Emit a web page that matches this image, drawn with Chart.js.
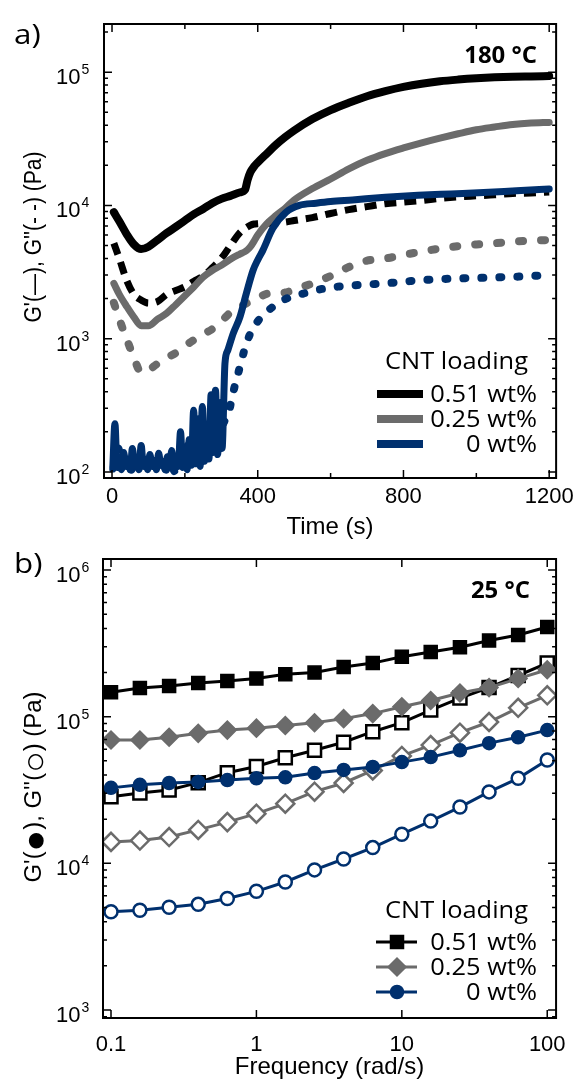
<!DOCTYPE html>
<html>
<head>
<meta charset="utf-8">
<script src="https://cdn.jsdelivr.net/npm/chart.js@4.4.1/dist/chart.umd.min.js"></script>
<style>
  html, body { margin: 0; padding: 0; background: #fff; }
  #page { position: relative; width: 580px; height: 1082px; overflow: hidden; }
  #panelA { position: absolute; left: 0; top: 0; }
  #panelB { position: absolute; left: 0; top: 540px; }
</style>
</head>
<body>
<div id="page">
  <canvas id="panelA" width="580" height="545"></canvas>
  <canvas id="panelB" width="580" height="542"></canvas>
</div>
<script>
// ---------- panel a: time sweep at 180 °C ----------
const timeS = [5, 20, 40, 60, 80, 100, 125, 150, 175, 200, 225, 250, 275, 300, 325, 350, 365, 372, 380, 390,
  400, 425, 450, 475, 500, 550, 600, 650, 700, 750, 800, 850, 900, 950, 1000, 1050, 1100, 1150, 1200];
const gp051 = [8900, 7600, 6100, 5100, 4700, 4900, 5500, 6200, 6900, 7700, 8600, 9400, 10400, 11200, 11800, 12500, 13100, 15500, 17800, 19600,
  21000, 24500, 28500, 32500, 36500, 44500, 52000, 59000, 66000, 72000, 77500, 82000, 85500, 88000, 90000, 91500, 92500, 93000, 93500];
const gpp051 = [5200, 4000, 2750, 2150, 1950, 1850, 1900, 2150, 2300, 2450, 2700, 2950, 3400, 4000, 5000, 6200, 6700, 6900, 7100, 7250,
  7300, 7350, 7400, 7500, 7700, 8100, 8700, 9300, 9800, 10300, 10600, 10900, 11300, 11600, 11800, 12000, 12300, 12400, 12600];
const gp025 = [2600, 2150, 1750, 1450, 1250, 1250, 1400, 1550, 1800, 2100, 2450, 2900, 3250, 3550, 3950, 4300, 4500, 4650, 4900, 5400,
  6000, 7300, 8400, 9500, 11000, 13400, 15800, 18800, 21800, 24500, 27000, 29500, 32000, 34500, 37000, 38800, 40500, 41500, 42000];
const gpp025 = [1860, 1400, 1000, 720, 560, 580, 650, 720, 780, 880, 980, 1080, 1180, 1350, 1570, 1720, 1820, 1860, 1900, 1960,
  2020, 2170, 2200, 2220, 2330, 2600, 2950, 3450, 3850, 4000, 4250, 4500, 4750, 4950, 5100, 5200, 5350, 5450, 5500];

// neat polymer: noisy signal near the torque limit before curing sets in
const timeGp0 = [2, 8, 14, 20, 26, 32, 38, 44, 50, 56, 62, 68, 74, 80, 86, 92, 98, 104, 110, 116, 122, 128, 134, 140, 146,
  152, 158, 164, 170, 176, 182, 188, 194, 200, 206, 212, 218, 224, 230, 236, 242, 248, 254, 260, 266, 272, 278, 284, 290, 296, 302,
  310, 318, 333, 351, 369, 387, 400, 414, 441, 478, 514, 560, 600, 660, 750, 840, 930, 1020, 1110, 1200];
const gp0 = [105, 230, 108, 125, 104, 140, 110, 122, 104, 150, 112, 124, 104, 158, 110, 125, 104, 135, 110, 122, 104, 138, 112, 120, 104,
  130, 110, 145, 104, 122, 110, 200, 108, 140, 104, 175, 112, 290, 115, 250, 110, 310, 120, 230, 125, 380, 140, 410, 135, 330, 150,
  650, 820, 1100, 1450, 2200, 3250, 3900, 4600, 6700, 8900, 10000, 10400, 10700, 11000, 11500, 11900, 12200, 12500, 12900, 13300];
const timeGpp0 = [5, 17, 29, 41, 53, 65, 77, 89, 101, 113, 125, 137, 149, 161, 173, 185, 197, 209, 221, 233, 245, 257, 269, 281, 293, 305,
  320, 335, 350, 365, 380, 400, 420, 440, 470, 530, 590, 650, 750, 850, 950, 1050, 1150, 1200];
const gpp0 = [110, 150, 100, 130, 104, 125, 100, 135, 103, 120, 100, 128, 104, 118, 100, 130, 105, 160, 110, 200, 120, 180, 150, 250, 200, 230,
  280, 420, 600, 850, 1100, 1350, 1550, 1720, 1950, 2200, 2400, 2500, 2600, 2750, 2830, 2880, 2950, 3000];

const timeTicks = [0, 400, 800, 1200];
const timeMinor = [200, 600, 1000];
const decadesA = [2, 3, 4, 5];

// ---------- panel b: frequency sweep at 25 °C ----------
const freq = [0.1, 0.158, 0.251, 0.398, 0.631, 1, 1.58, 2.51, 3.98, 6.31, 10, 15.8, 25.1, 39.8, 63.1, 100];
const fGp051 = [147000, 157000, 162000, 170000, 175000, 182000, 195000, 200000, 218000, 232000, 256000, 276000, 298000, 331000, 361000, 409000];
const fGpp051 = [28400, 30200, 31600, 35500, 41500, 45700, 52500, 59000, 67000, 79000, 91000, 111000, 134000, 158000, 191000, 232000];
const fGp025 = [69300, 69300, 72400, 77000, 81000, 83500, 87000, 91000, 97000, 105000, 117000, 129000, 145000, 158000, 182000, 209000];
const fGpp025 = [14000, 14300, 15100, 16900, 19100, 21800, 25500, 30800, 35300, 43000, 54000, 64000, 77800, 92000, 115000, 140000];
const fGp0 = [32700, 34300, 35300, 35900, 37000, 38000, 38600, 41300, 43300, 45400, 49000, 53000, 59000, 66000, 72400, 81000];
const fGpp0 = [4670, 4790, 5010, 5250, 5760, 6440, 7460, 9020, 10700, 12800, 15800, 19400, 24200, 30700, 38000, 50700];

const freqTicks = [0.1, 1, 10, 100];
const decadesB = [3, 4, 5, 6];

const loadings = ['0.51 wt%', '0.25 wt%', '0 wt%'];
const BLACK = '#000000', GREY = '#6b6b6b', NAVY = '#00306e';
const colors = [BLACK, GREY, NAVY];
const SANS = '"Liberation Sans", Arial, sans-serif';
const OPEN = '"Open Sans", sans-serif';

const xy = (xs, ys) => xs.map((x, i) => ({ x, y: ys[i] }));

function curve(points, color, width, dash, cap, order) {
  return {
    data: points, borderColor: color, borderWidth: width, borderDash: dash,
    borderCapStyle: cap, borderJoinStyle: 'round', pointRadius: 0,
    cubicInterpolationMode: 'monotone', fill: false, order
  };
}

function markers(points, color, style, radius, filled, order) {
  return {
    data: points, borderColor: color, borderWidth: 3, tension: 0, fill: false,
    pointStyle: style, pointRadius: radius, pointBorderWidth: filled ? 1.5 : 2.5,
    pointBorderColor: color, pointBackgroundColor: filled ? color : '#ffffff', order
  };
}

// box, inward ticks on all four sides
function drawFrame(chart, xMajor, xMinor, decades) {
  const { ctx, chartArea: a, scales: { x, y } } = chart;
  ctx.save();
  ctx.strokeStyle = '#000';
  ctx.lineWidth = 1.5;
  ctx.beginPath();
  const xTick = (v, len) => {
    const p = x.getPixelForValue(v);
    ctx.moveTo(p, a.bottom); ctx.lineTo(p, a.bottom - len);
    ctx.moveTo(p, a.top); ctx.lineTo(p, a.top + len);
  };
  const yTick = (v, len) => {
    const p = y.getPixelForValue(v);
    if (p < a.top - 0.5 || p > a.bottom + 0.5) return;
    ctx.moveTo(a.left, p); ctx.lineTo(a.left + len, p);
    ctx.moveTo(a.right, p); ctx.lineTo(a.right - len, p);
  };
  xMajor.forEach(v => xTick(v, 8));
  xMinor.forEach(v => xTick(v, 5));
  const all = [decades[0] - 1].concat(decades);
  all.forEach(e => {
    const d = Math.pow(10, e);
    if (e >= decades[0]) yTick(d, 8);
    for (let m = 2; m <= 9; m++) yTick(m * d, 4);
  });
  ctx.stroke();
  ctx.lineWidth = 2;
  ctx.strokeRect(a.left, a.top, a.right - a.left, a.bottom - a.top);
  ctx.restore();
}

// 10^n labels with a raised exponent
function drawPowerLabels(chart, decades) {
  const { ctx, scales: { y } } = chart;
  ctx.save();
  ctx.fillStyle = '#000';
  ctx.textAlign = 'left';
  ctx.textBaseline = 'alphabetic';
  decades.forEach(e => {
    const p = y.getPixelForValue(Math.pow(10, e));
    ctx.font = '22px ' + SANS;
    ctx.fillText('10', 56, p + 12);
    const w = ctx.measureText('10').width;
    ctx.font = '14px ' + SANS;
    ctx.fillText(String(e), 56 + w + 1, p + 2);
  });
  ctx.restore();
}

// rotated axis title made of runs (text, relative size), squeezed to a given length
function drawYTitle(ctx, runs, cx, cy, size, length) {
  ctx.save();
  ctx.fillStyle = '#000';
  ctx.textBaseline = 'middle';
  ctx.textAlign = 'left';
  const widths = runs.map(([t, k]) => { ctx.font = (size * k) + 'px ' + SANS; return ctx.measureText(t).width; });
  const total = widths.reduce((s, w) => s + w, 0);
  ctx.translate(cx, cy);
  ctx.rotate(-Math.PI / 2);
  ctx.scale(length / total, 1);
  let x = -total / 2;
  runs.forEach(([t, k], i) => {
    ctx.font = (size * k) + 'px ' + SANS;
    ctx.fillText(t, x, k > 1 ? 1 : 0);
    x += widths[i];
  });
  ctx.restore();
}

// text stretched horizontally by sx, anchored at its left or right edge
function stretchedText(ctx, text, x, y, sx, align) {
  ctx.save();
  ctx.translate(x, y);
  ctx.scale(sx, 1);
  ctx.textAlign = align;
  ctx.fillText(text, 0, 0);
  ctx.restore();
}

function drawMarker(ctx, style, x, y, r) {
  ctx.beginPath();
  if (style === 'rect') {
    const s = Math.SQRT1_2 * r;
    ctx.rect(x - s, y - s, 2 * s, 2 * s);
  } else if (style === 'rectRot') {
    ctx.moveTo(x - r, y); ctx.lineTo(x, y - r); ctx.lineTo(x + r, y); ctx.lineTo(x, y + r); ctx.closePath();
  } else {
    ctx.arc(x, y, r, 0, Math.PI * 2);
  }
  ctx.fill();
  ctx.stroke();
}

// panel letter, temperature and "CNT loading" block
function drawCaptions(ctx, letter, letterY, temp, tempRight, tempY, headY, base) {
  ctx.fillStyle = '#000';
  ctx.textBaseline = 'alphabetic';
  ctx.font = '28px ' + OPEN;
  stretchedText(ctx, letter, 14, letterY, 1.12, 'left');
  ctx.font = 'bold 23px ' + OPEN;
  stretchedText(ctx, temp, tempRight, tempY, 1.04, 'right');
  ctx.font = '23px ' + OPEN;
  const sx = 143 / ctx.measureText('CNT loading').width;
  stretchedText(ctx, 'CNT loading', 385, headY, sx, 'left');
  loadings.forEach((lbl, i) => stretchedText(ctx, lbl, 537, base[i], sx, 'right'));
}

const panelADecor = {
  id: 'panelADecor',
  afterDraw(chart) {
    const ctx = chart.ctx;
    drawFrame(chart, timeTicks, timeMinor, decadesA);
    drawPowerLabels(chart, decadesA);
    drawYTitle(ctx, [["G'(\u2014), G''(- -) (Pa)", 1]], 35, 237, 23, 171);
    ctx.save();
    const base = [402, 427, 452];
    drawCaptions(ctx, 'a)', 44, '180 \u00B0C', 537, 63, 369, base);
    loadings.forEach((lbl, i) => {
      ctx.strokeStyle = colors[i];
      ctx.lineWidth = 8;
      ctx.lineCap = 'butt';
      ctx.beginPath();
      ctx.moveTo(377, base[i] - 8);
      ctx.lineTo(423, base[i] - 8);
      ctx.stroke();
    });
    ctx.restore();
  }
};

const markerStyles = ['rect', 'rectRot', 'circle'];
const markerSizes = [9.2, 9, 6.5];

const panelBDecor = {
  id: 'panelBDecor',
  afterDraw(chart) {
    const ctx = chart.ctx;
    drawFrame(chart, freqTicks, [], decadesB);
    drawPowerLabels(chart, decadesB);
    drawYTitle(ctx, [["G'(", 1], ['\u25CF', 1.5], ["), G''(", 1], ['\u25CB', 1.5], [') (Pa)', 1]], 35, 247, 23, 191);
    ctx.save();
    const base = [410, 435, 460];
    drawCaptions(ctx, 'b)', 33, '25 \u00B0C', 530, 58, 378, base);
    loadings.forEach((lbl, i) => {
      const ly = base[i] - 8;
      ctx.strokeStyle = colors[i];
      ctx.lineWidth = 3;
      ctx.beginPath();
      ctx.moveTo(376, ly);
      ctx.lineTo(417, ly);
      ctx.stroke();
      ctx.fillStyle = colors[i];
      ctx.lineWidth = 1.5;
      drawMarker(ctx, markerStyles[i], 397, ly, markerSizes[i]);
    });
    ctx.restore();
  }
};

const tickFont = { family: 'Liberation Sans', size: 22 };
const titleFont = { family: 'Liberation Sans', size: 24 };

new Chart(document.getElementById('panelA'), {
  type: 'line',
  data: {
    datasets: [
      curve(xy(timeS, gpp051), BLACK, 7, [12, 8], 'butt', 6),
      curve(xy(timeS, gp051), BLACK, 8, [], 'round', 5),
      curve(xy(timeS, gpp025), GREY, 8, [4, 18], 'round', 4),
      curve(xy(timeS, gp025), GREY, 7, [], 'round', 3),
      curve(xy(timeGpp0, gpp0), NAVY, 8, [2, 16], 'round', 2),
      curve(xy(timeGp0, gp0), NAVY, 7, [], 'round', 1)
    ]
  },
  options: {
    responsive: false,
    animation: false,
    devicePixelRatio: 1,
    layout: { padding: { top: 24, right: 22, left: 0, bottom: 0 } },
    plugins: { legend: { display: false }, tooltip: { enabled: false } },
    scales: {
      x: {
        type: 'linear', min: -22, max: 1219,
        afterBuildTicks: s => { s.ticks = timeTicks.map(v => ({ value: v })); },
        afterFit: s => { s.height = 67; },
        grid: { display: false, drawTicks: false }, border: { display: false },
        ticks: { font: tickFont, color: '#000', padding: 6, maxRotation: 0, autoSkip: false, callback: v => String(v) },
        title: { display: true, text: 'Time (s)', font: titleFont, color: '#000', padding: { top: 0, bottom: 3 } }
      },
      y: {
        type: 'logarithmic', min: 90, max: 230000,
        afterBuildTicks: s => { s.ticks = decadesA.map(e => ({ value: Math.pow(10, e) })); },
        afterFit: s => { s.width = 104; },
        grid: { display: false, drawTicks: false }, border: { display: false },
        ticks: { display: false }
      }
    }
  },
  plugins: [panelADecor]
});

new Chart(document.getElementById('panelB'), {
  type: 'line',
  data: {
    datasets: [
      markers(xy(freq, fGpp051), BLACK, 'rect', 9.2, false, 6),
      markers(xy(freq, fGp051), BLACK, 'rect', 9.2, true, 5),
      markers(xy(freq, fGpp025), GREY, 'rectRot', 9, false, 4),
      markers(xy(freq, fGp025), GREY, 'rectRot', 9, true, 3),
      markers(xy(freq, fGpp0), NAVY, 'circle', 6.5, false, 2),
      markers(xy(freq, fGp0), NAVY, 'circle', 6.5, true, 1)
    ]
  },
  options: {
    responsive: false,
    animation: false,
    devicePixelRatio: 1,
    layout: { padding: { top: 19, right: 21, left: 0, bottom: 0 } },
    plugins: { legend: { display: false }, tooltip: { enabled: false } },
    scales: {
      x: {
        type: 'logarithmic', min: 0.0881, max: 115,
        afterBuildTicks: s => { s.ticks = freqTicks.map(v => ({ value: v })); },
        afterFit: s => { s.height = 64; },
        grid: { display: false, drawTicks: false }, border: { display: false },
        ticks: { font: tickFont, color: '#000', padding: 14, maxRotation: 0, autoSkip: false, callback: v => String(v) },
        title: { display: true, text: 'Frequency (rad/s)', font: titleFont, color: '#000', padding: { top: 0, bottom: 0 } }
      },
      y: {
        type: 'logarithmic', min: 881, max: 1190000,
        afterBuildTicks: s => { s.ticks = decadesB.map(e => ({ value: Math.pow(10, e) })); },
        afterFit: s => { s.width = 103; },
        grid: { display: false, drawTicks: false }, border: { display: false },
        ticks: { display: false }
      }
    }
  },
  plugins: [panelBDecor]
});
</script>
</body>
</html>
